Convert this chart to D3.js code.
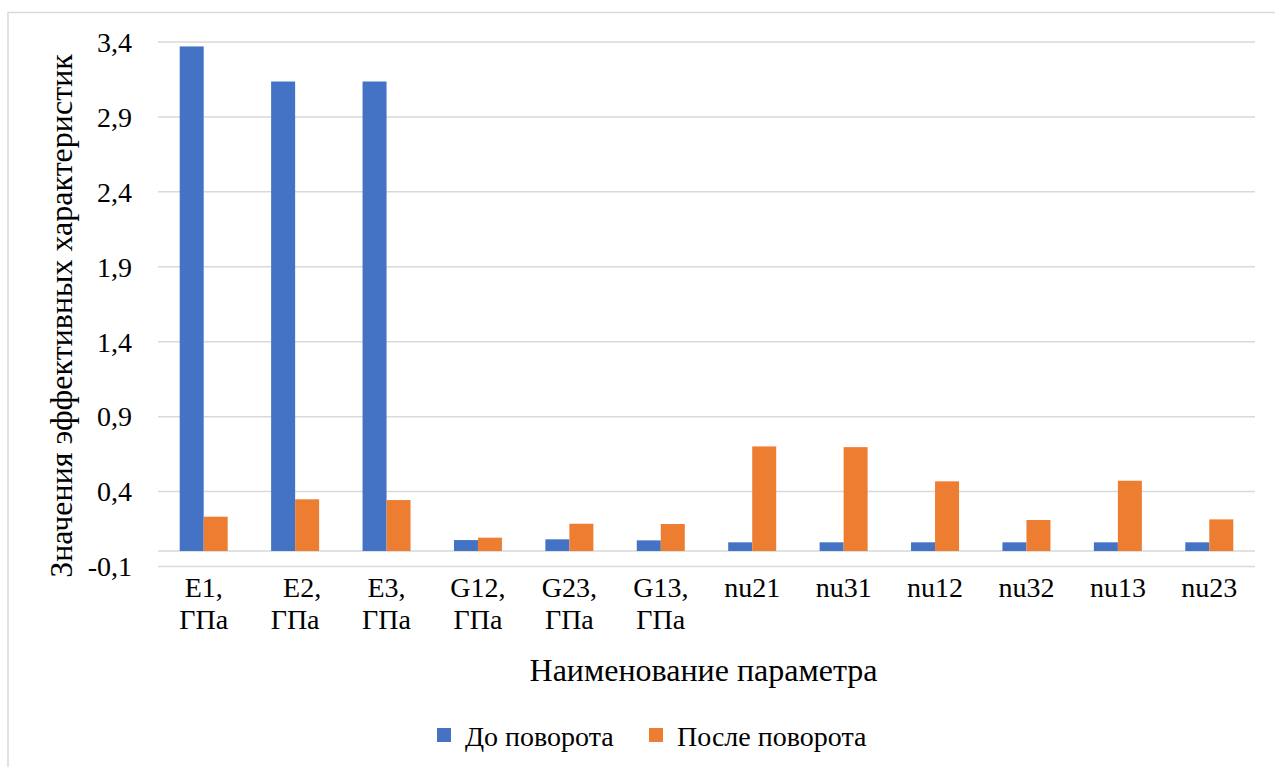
<!doctype html>
<html lang="ru">
<head>
    <meta charset="utf-8">
    <title></title>
    <script src="https://d3js.org/d3.v7.min.js"></script>
    <style type="text/css">
        body { margin: 0; background: #fff; }
    </style>
</head>

<body>
</body>

<script type="text/javascript">

    var categories = [["E1,", "ГПа"], ["  E2,", "ГПа"], ["E3,", "ГПа"], ["G12,", "ГПа"], ["G23,", "ГПа"], ["G13,", "ГПа"],
                      ["nu21"], ["nu31"], ["nu12"], ["nu32"], ["nu13"], ["nu23"]];
    var before = [3.367, 3.133, 3.133, 0.073, 0.078, 0.071, 0.058, 0.058, 0.058, 0.058, 0.058, 0.058];
    var after  = [0.229, 0.345, 0.340, 0.089, 0.182, 0.180, 0.698, 0.693, 0.465, 0.207, 0.469, 0.211];
    var seriesNames = ["До поворота", "После поворота"];
    var seriesColors = ["#4472C4", "#ED7D31"];
    var yTicks = [-0.1, 0.4, 0.9, 1.4, 1.9, 2.4, 2.9, 3.4];

    var pixel_width  = 1275;
    var pixel_height = 767;
    var font = "Liberation Serif";

    var plotLeft = 158, plotRight = 1255, plotTop = 41.5, plotBottom = 566;

    var svg = d3.select("body")
                .append("svg")
                .attr("width", pixel_width)
                .attr("height", pixel_height)
                .attr("font-family", font);

    // chart frame
    svg.append("rect")
        .attr("x", 8).attr("y", 12.5)
        .attr("width", 1290).attr("height", 800)
        .style("fill", "#fff").style("stroke", "#d9d9d9").style("stroke-width", 1.5);

    var idx = d3.range(categories.length);

    var xScale = d3.scaleBand()
                 .domain(idx)
                 .range([plotLeft, plotRight]);

    var bw = xScale.bandwidth();
    var xInner = d3.scaleBand()
                 .domain([0, 1])
                 .range([bw / 2 - 24, bw / 2 + 24]);

    var yScale = d3.scaleLinear()
                .domain([-0.1, 3.4])
                .range([plotBottom, plotTop]);

    // gridlines + tick labels
    var yAxis = d3.axisLeft(yScale)
                  .tickValues(yTicks)
                  .tickSize(-(plotRight - plotLeft))
                  .tickPadding(26)
                  .tickFormat(d => d3.format(".1f")(d).replace(".", ",").replace("−", "-"));

    var gy = svg.append("g")
                .attr("transform", "translate(" + plotLeft + ",0)")
                .call(yAxis)
                .attr("font-family", font)
                .attr("font-size", null);
    gy.select(".domain").remove();
    gy.selectAll(".tick line").style("stroke", "#d9d9d9").style("stroke-width", 1.5);
    gy.selectAll(".tick text")
      .style("font-family", font)
      .style("font-size", "28px")
      .style("fill", "#000")
      .attr("dy", "0.35em");

    // zero line
    svg.append("line")
        .attr("x1", plotLeft).attr("x2", plotRight)
        .attr("y1", yScale(0)).attr("y2", yScale(0))
        .style("stroke", "#d9d9d9").style("stroke-width", 1.5);

    // bars
    var series = [before, after];
    series.forEach(function (vals, s) {
        svg.append("g").selectAll("rect")
            .data(vals)
            .enter()
            .append("rect")
            .attr("x", (d, i) => xScale(i) + xInner(s))
            .attr("y", d => yScale(Math.max(0, d)))
            .attr("width", xInner.bandwidth())
            .attr("height", d => Math.abs(yScale(d) - yScale(0)))
            .style("fill", seriesColors[s]);
    });

    // category labels
    var labels = svg.append("g").selectAll("text")
        .data(categories)
        .enter()
        .append("text")
        .attr("text-anchor", "middle")
        .attr("xml:space", "preserve")
        .style("font-family", font)
        .style("font-size", "28px")
        .style("white-space", "pre")
        .attr("x", (d, i) => xScale(i) + bw / 2)
        .attr("y", 597);

    labels.selectAll("tspan")
        .data(d => d)
        .enter()
        .append("tspan")
        .attr("x", function () { return d3.select(this.parentNode).attr("x"); })
        .attr("dy", (d, i) => i === 0 ? 0 : 32)
        .text(d => d);

    // axis titles
    svg.append("text")
        .attr("x", (plotLeft + plotRight) / 2 - 3)
        .attr("y", 681)
        .attr("text-anchor", "middle")
        .style("font-family", font)
        .style("font-size", "32px")
        .text("Наименование параметра");

    svg.append("text")
        .attr("transform", "translate(72,316) rotate(-90)")
        .attr("text-anchor", "middle")
        .style("font-family", font)
        .style("font-size", "32px")
        .text("Значения эффективных характеристик");

    // legend
    var legendX = [437, 649];
    seriesNames.forEach(function (name, s) {
        svg.append("rect")
            .attr("x", legendX[s]).attr("y", 728)
            .attr("width", 14).attr("height", 14)
            .style("fill", seriesColors[s]);
        svg.append("text")
            .attr("x", legendX[s] + 28)
            .attr("y", 746)
            .style("font-family", font)
            .style("font-size", "28px")
            .text(name);
    });

</script>

</html>
